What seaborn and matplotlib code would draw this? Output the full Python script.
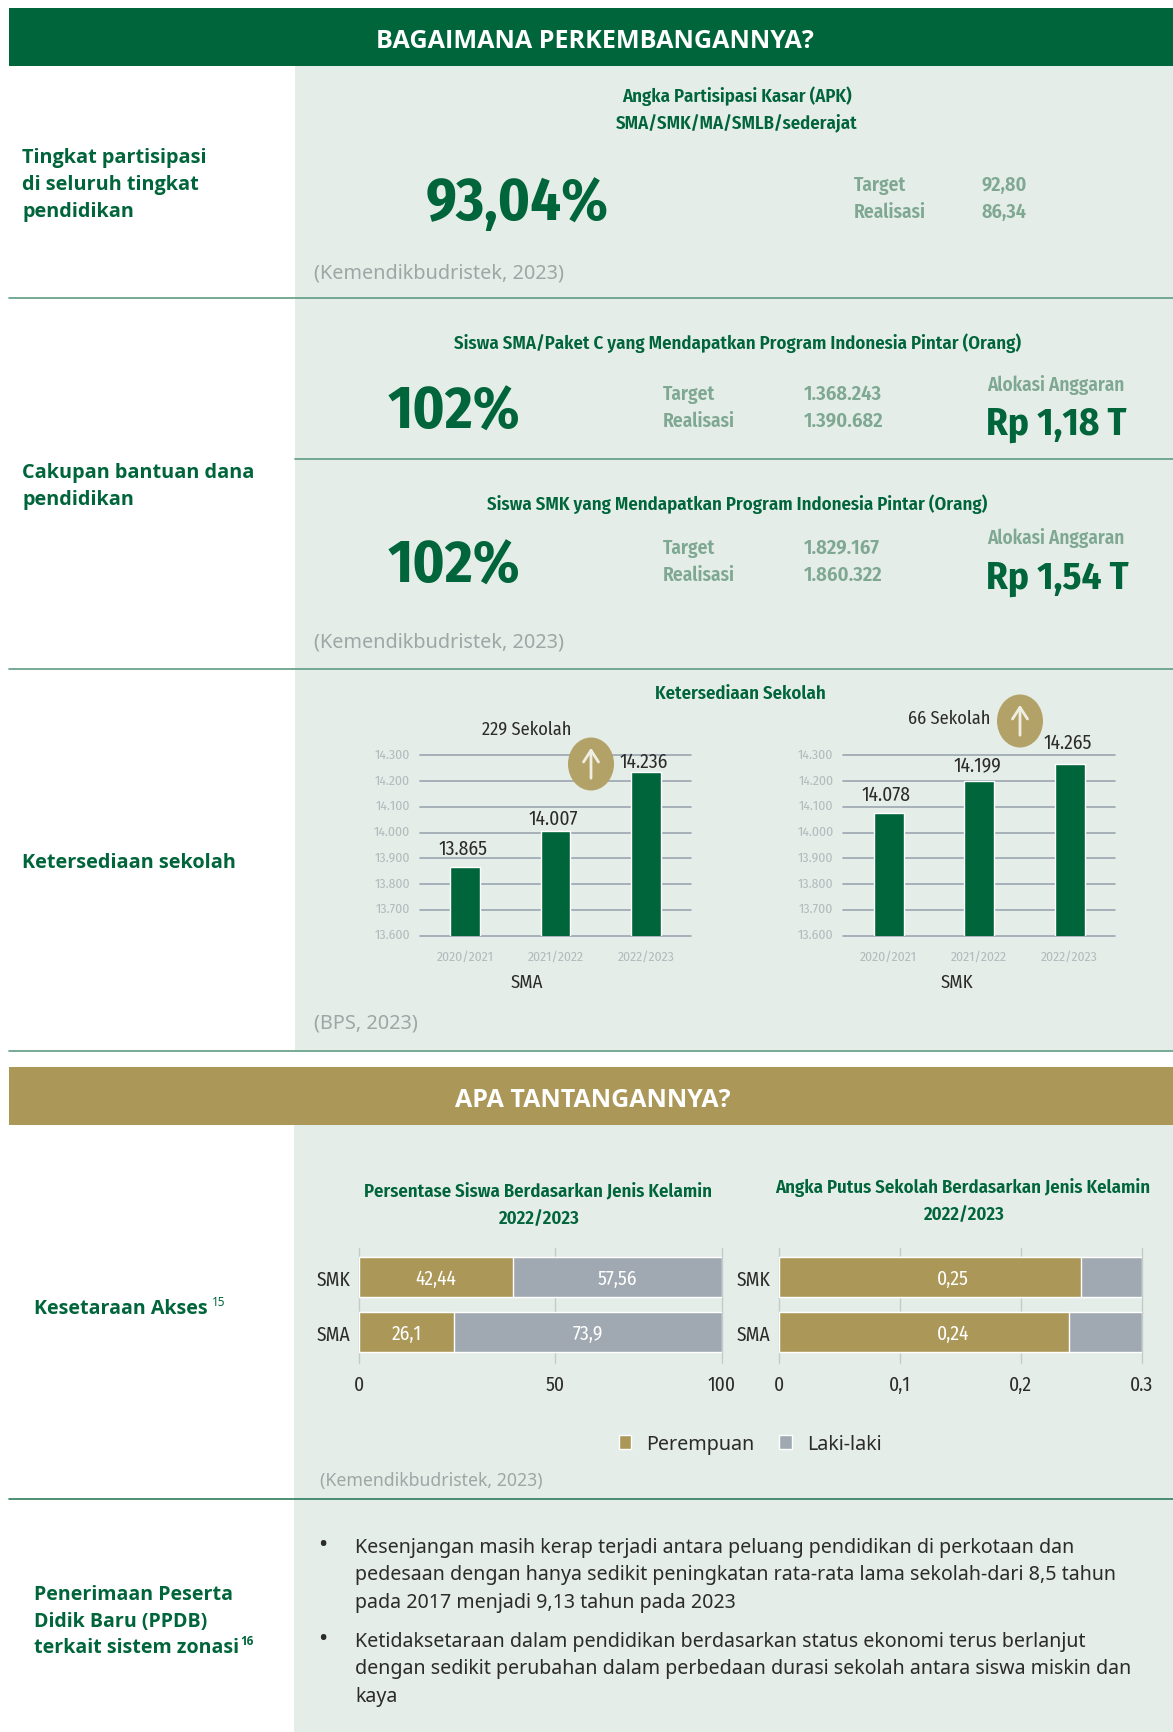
import matplotlib
matplotlib.use("Agg")
import logging
import matplotlib.pyplot as plt
from matplotlib.patches import Rectangle, Ellipse
from matplotlib.ticker import FuncFormatter
from matplotlib.transforms import ScaledTranslation
import pandas as pd
import seaborn as sns

logging.getLogger("matplotlib.font_manager").setLevel(logging.ERROR)

W, H = 1173, 1733

GREEN = "#00653a"
PANEL = "#e5ede8"
GOLD = "#ab9859"
GREY_BAR = "#a0a9b2"
MUTED = "#7fa892"
SOURCE = "#a0a5a6"
TICK = "#b3babd"
LINE = "#5f9c82"
DARK = "#2b2b2b"

NARROW = ["Fira Sans Condensed", "Liberation Sans Narrow", "Open Sans", "DejaVu Sans"]
WIDE = ["Noto Sans", "DejaVu Sans"]
WIDE_BOLD = ["Open Sans", "DejaVu Sans"]

# Data
years = ["2020/2021", "2021/2022", "2022/2023"]
sma_schools = [13865, 14007, 14236]
smk_schools = [14078, 14199, 14265]
school_ticks = [13600, 13700, 13800, 13900, 14000, 14100, 14200, 14300]

levels = ["SMK", "SMA"]
students_female = [42.44, 26.1]
students_male = [57.56, 73.9]
student_labels_f = ["42,44", "26,1"]
student_labels_m = ["57,56", "73,9"]
dropout_female = [0.25, 0.24]
dropout_male = [0.05, 0.06]
dropout_labels = ["0,25", "0,24"]

# the "50" gridline sits right of the middle in the source chart
student_tick_pos = [0, 54, 100]
student_tick_labels = ["0", "50", "100"]
dropout_tick_pos = [0, 0.1, 0.2, 0.3]
dropout_tick_labels = ["0", "0,1", "0,2", "0.3"]

sns.set_theme(style="white")
plt.rcParams["font.family"] = WIDE

fig = plt.figure(figsize=(W / 100, H / 100), dpi=100, facecolor="white")


def axes_px(x0, y0, x1, y1, zorder=1):
    return fig.add_axes([x0 / W, 1 - y1 / H, (x1 - x0) / W, (y1 - y0) / H], zorder=zorder)


def page_axes(zorder):
    ax = axes_px(0, 0, W, H, zorder=zorder)
    ax.set_xlim(0, W)
    ax.set_ylim(H, 0)
    ax.axis("off")
    ax.patch.set_alpha(0)
    return ax


back = page_axes(0)
top = page_axes(5)


def txt(x, y, s, size, color=DARK, weight="normal", ha="left", family=NARROW):
    top.text(x, y, s, fontsize=size, color=color, fontweight=weight, ha=ha, va="center", family=family)


# Background blocks
back.add_patch(Rectangle((295, 67), W - 295, 984, color=PANEL, lw=0))
back.add_patch(Rectangle((294, 1126), W - 294, H - 1126, color=PANEL, lw=0))
back.add_patch(Rectangle((9, 9), W - 9, 58, color=GREEN, lw=0))
back.add_patch(Rectangle((9, 1068), W - 9, 58, color=GOLD, lw=0))
back.plot([9, W], [299, 299], color=LINE, lw=1.2)
back.plot([295, W], [460, 460], color=LINE, lw=1.2)
back.plot([9, W], [670, 670], color=LINE, lw=1.2)
back.plot([9, W], [1051.5, 1051.5], color=LINE, lw=1.2)
back.plot([9, W], [1499.5, 1499.5], color="#2f7d5c", lw=1.2)

# Headers
txt(595, 41, "BAGAIMANA PERKEMBANGANNYA?", 18.1, "white", "bold", "center", WIDE_BOLD)
txt(593, 1100.5, "APA TANTANGANNYA?", 18, "white", "bold", "center", WIDE_BOLD)

# Left column labels
for y, s in [(158, "Tingkat partisipasi"), (185, "di seluruh tingkat"), (212, "pendidikan"),
             (473, "Cakupan bantuan dana"), (500, "pendidikan"), (863, "Ketersediaan sekolah")]:
    txt(22, y, s, 14.3, GREEN, "bold", family=WIDE_BOLD)
for y, s in [(1309, "Kesetaraan Akses"), (1595, "Penerimaan Peserta"), (1622, "Didik Baru (PPDB)"),
             (1648, "terkait sistem zonasi")]:
    txt(34, y, s, 14.1, GREEN, "bold", family=WIDE_BOLD)
txt(212, 1303, "15", 8.5, GREEN, family=WIDE)
txt(240, 1642, "16", 8.5, GREEN, "bold", family=WIDE_BOLD)

# APK block
txt(737, 96, "Angka Partisipasi Kasar (APK)", 13.5, GREEN, 600, "center")
txt(737, 124, "SMA/SMK/MA/SMLB/sederajat", 13.5, GREEN, 600, "center")
txt(517, 204, "93,04%", 43, GREEN, "bold", "center")
txt(853.5, 185.5, "Target", 14, MUTED, 600)
txt(853.5, 212, "Realisasi", 14, MUTED, 600)
txt(981, 185.5, "92,80", 14.5, MUTED, 600)
txt(981, 212, "86,34", 14.5, MUTED, 600)
txt(314, 273, "(Kemendikbudristek, 2023)", 14.3, SOURCE, family=WIDE)

# PIP blocks
pip_rows = [
    (343, "Siswa SMA/Paket C yang Mendapatkan Program Indonesia Pintar (Orang)", 413, 394.5, 421,
     "1.368.243", "1.390.682", 385, 424, "Rp 1,18 T"),
    (504, "Siswa SMK yang Mendapatkan Program Indonesia Pintar (Orang)", 567, 548, 575,
     "1.829.167", "1.860.322", 538.5, 578, "Rp 1,54 T"),
]
for y_t, title, y_big, y_a, y_b, target, real, y_al, y_rp, rp in pip_rows:
    txt(737.5, y_t, title, 13.5, GREEN, 600, "center")
    txt(454, y_big, "102%", 43, GREEN, "bold", "center")
    txt(663, y_a, "Target", 14, MUTED, 600)
    txt(663, y_b, "Realisasi", 14, MUTED, 600)
    txt(804, y_a, target, 14.8, MUTED, 600)
    txt(804, y_b, real, 14.8, MUTED, 600)
    txt(987, y_al, "Alokasi Anggaran", 13.8, MUTED, 600)
    txt(986, y_rp, rp, 28, GREEN, "bold")
txt(314, 642, "(Kemendikbudristek, 2023)", 14.3, SOURCE, family=WIDE)


def school_chart(x0, x1, values, pads):
    ax = axes_px(x0, 756.3, x1, 936.7)
    ax.patch.set_alpha(0)
    sns.barplot(x=years, y=values, color=GREEN, saturation=1, width=0.33, ax=ax)
    ax.set_ylim(13600, 14300)
    ax.set_xlim(-0.5, 2.5)
    ax.set_yticks(school_ticks)
    ax.yaxis.set_major_formatter(FuncFormatter(lambda v, _: f"{int(v):,}".replace(",", ".")))
    ax.set_axisbelow(True)
    ax.grid(axis="y", color="#9aa6b0", lw=1.2)
    for line in ax.get_ygridlines():
        line.set_clip_on(False)
    sns.despine(ax=ax, left=True, bottom=True, top=True, right=True)
    ax.tick_params(length=0, labelsize=9.8, labelcolor=TICK)
    ax.tick_params(axis="x", pad=10)
    ax.tick_params(axis="y", pad=7)
    shift_up = ScaledTranslation(0, 2.5 / 100, fig.dpi_scale_trans)
    for lab in ax.get_xticklabels() + ax.get_yticklabels():
        lab.set_family(NARROW)
    for lab in ax.get_yticklabels():
        lab.set_transform(lab.get_transform() + shift_up)
    for i, v in enumerate(values):
        ax.annotate(f"{v:,}".replace(",", "."), (i, v), xytext=(-1.5, pads[i]), textcoords="offset points",
                    ha="center", va="bottom", fontsize=14, color=DARK, family=NARROW, annotation_clip=False)
    ax.set_xlabel("")
    ax.set_ylabel("")
    return ax


school_chart(420, 691, sma_schools, [7, 2, 0.5])
school_chart(843.3, 1115, smk_schools, [6, 4.5, 9])

txt(740, 694, "Ketersediaan Sekolah", 13.5, GREEN, 600, "center")
txt(527, 730, "229 Sekolah", 13.2, DARK, ha="center")
txt(949, 719, "66 Sekolah", 13.2, DARK, ha="center")
txt(527, 983, "SMA", 13.5, DARK, ha="center")
txt(957, 983, "SMK", 13.5, DARK, ha="center")
txt(314, 1023, "(BPS, 2023)", 14.3, SOURCE, family=WIDE)

for cx, cy in [(591, 765), (1020, 722)]:
    top.add_patch(Ellipse((cx, cy), 46, 53, color="#b3a268", lw=0))
    top.annotate("", xy=(cx, cy - 19), xytext=(cx, cy + 17),
                 arrowprops=dict(arrowstyle="->,head_length=0.7,head_width=0.45", color="#efeee2", lw=2))


def share_chart(x0, x1, first, second, xmax, ticks, tick_labels):
    ax = axes_px(x0, 1249, x1, 1364)
    ax.patch.set_alpha(0)
    df = pd.DataFrame({"level": levels, "first": first, "total": [a + b for a, b in zip(first, second)]})
    sns.barplot(data=df, y="level", x="total", color=GREY_BAR, saturation=1, width=0.727, ax=ax, label="Laki-laki")
    sns.barplot(data=df, y="level", x="first", color=GOLD, saturation=1, width=0.727, ax=ax, label="Perempuan")
    ax.set_xlim(0, xmax)
    ax.set_ylim(1.564, -0.527)
    ax.set_xticks(ticks)
    ax.set_xticklabels(tick_labels)
    ax.set_axisbelow(True)
    ax.grid(axis="x", color="#c3cccb", lw=1)
    for line in ax.get_xgridlines():
        line.set_clip_on(False)
    sns.despine(ax=ax, left=True, bottom=True, top=True, right=True)
    ax.tick_params(length=0, labelsize=14, labelcolor=DARK)
    ax.tick_params(axis="x", pad=8)
    ax.tick_params(axis="y", pad=6)
    for lab in ax.get_xticklabels() + ax.get_yticklabels():
        lab.set_family(NARROW)
    ax.set_xlabel("")
    ax.set_ylabel("")
    ax.legend().remove()
    return ax


ax_students = share_chart(359, 722, students_female, students_male, 100, student_tick_pos, student_tick_labels)
ax_dropout = share_chart(779, 1141.6, dropout_female, dropout_male, 0.3, dropout_tick_pos, dropout_tick_labels)

for i in range(len(levels)):
    ax_students.text(students_female[i] / 2, i + 0.03, student_labels_f[i], color="white", fontsize=14,
                     ha="center", va="center", family=NARROW)
    ax_students.text(students_female[i] + students_male[i] / 2, i + 0.03, student_labels_m[i], color="white",
                     fontsize=14, ha="center", va="center", family=NARROW)
    ax_dropout.text(0.144, i + 0.03, dropout_labels[i], color="white", fontsize=14, ha="center", va="center",
                    family=NARROW)

txt(538.5, 1192.5, "Persentase Siswa Berdasarkan Jenis Kelamin", 13.5, GREEN, 600, "center")
txt(538.5, 1219, "2022/2023", 13.5, GREEN, 600, "center")
txt(963, 1188, "Angka Putus Sekolah Berdasarkan Jenis Kelamin", 13.5, GREEN, 600, "center")
txt(963, 1215, "2022/2023", 13.5, GREEN, 600, "center")

handles, names = ax_students.get_legend_handles_labels()
fig.legend(handles[::-1], names[::-1], loc="center", bbox_to_anchor=(750 / W, 1 - 1445 / H), ncol=2, frameon=False,
           prop={"family": WIDE, "size": 14.2}, handlelength=0.65, handleheight=0.65, handletextpad=0.75,
           columnspacing=1.25, labelcolor=DARK)
txt(319.5, 1481, "(Kemendikbudristek, 2023)", 12.7, SOURCE, family=WIDE)

# Bullet text
bullets = [
    (1548, True, "Kesenjangan masih kerap terjadi antara peluang pendidikan di perkotaan dan"),
    (1575, False, "pedesaan dengan hanya sedikit peningkatan rata-rata lama sekolah-dari 8,5 tahun"),
    (1603, False, "pada 2017 menjadi 9,13 tahun pada 2023"),
    (1642, True, "Ketidaksetaraan dalam pendidikan berdasarkan status ekonomi terus berlanjut"),
    (1669, False, "dengan sedikit perubahan dalam perbedaan durasi sekolah antara siswa miskin dan"),
    (1697, False, "kaya"),
]
for y, has_dot, line in bullets:
    if has_dot:
        txt(318, y - 2, "•", 18, DARK, family=WIDE)
    txt(355, y, line, 14.15, DARK, family=WIDE)

fig.savefig("out.png", dpi=100)
